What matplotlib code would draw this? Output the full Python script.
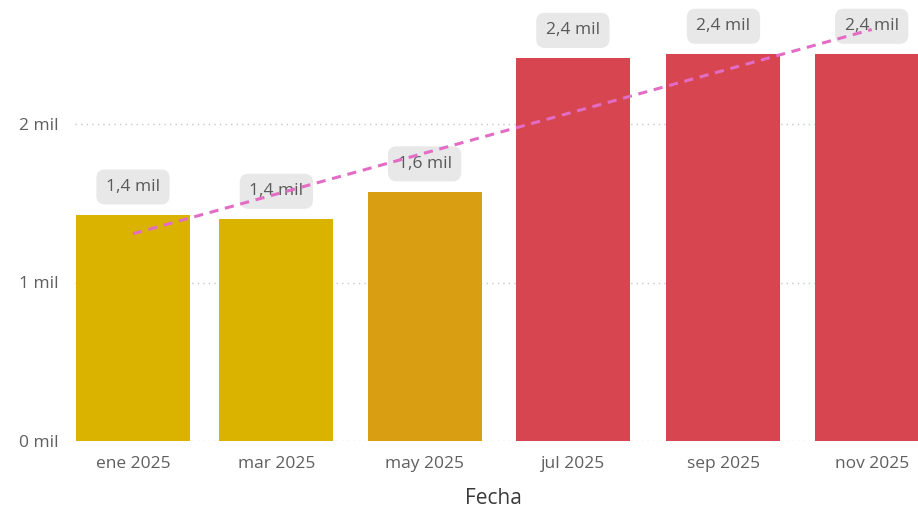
import matplotlib
matplotlib.use("Agg")
import matplotlib.pyplot as plt
import numpy as np
import datetime as dt

# Data
months = ["2025-01-01", "2025-03-01", "2025-05-01", "2025-07-01", "2025-09-01", "2025-11-01"]
tick_labels = ["ene 2025", "mar 2025", "may 2025", "jul 2025", "sep 2025", "nov 2025"]
values = [1426, 1399, 1572, 2414, 2440, 2440]
colors = ["#D9B300", "#D9B300", "#D99E12", "#D64550", "#D64550", "#D64550"]
y_ticks = [0, 1000, 2000]
y_tick_labels = ["0 mil", "1 mil", "2 mil"]

plt.rcParams['font.family'] = ['Open Sans', 'DejaVu Sans']

base = dt.date(2025, 1, 1)
days = np.array([(dt.date.fromisoformat(m) - base).days for m in months], dtype=float)

W, H = 918, 512
fig = plt.figure(figsize=(W / 100, H / 100), dpi=100)
left_px, right_px, bottom_px, top_px = 70, 940, 441, 0
ax = fig.add_axes([left_px / W, 1 - bottom_px / H, (right_px - left_px) / W, (bottom_px - top_px) / H])

px_per_day = 2.43
x0 = -(133 - left_px) / px_per_day
x1 = x0 + (right_px - left_px) / px_per_day
ax.set_xlim(x0, x1)
ax.set_ylim(0, 441 / 158.5 * 1000)

bar_w = 114 / px_per_day
ax.bar(days, values, width=bar_w, color=colors, zorder=2)

# gridlines
for t in y_ticks:
    ax.plot([-24, x1], [t, t], linestyle=(0, (1, 3)), color="#C8C8C8", lw=1, zorder=1)

# trend line
coef = np.polyfit(days, values, 1)
tx = np.array([days[0], days[-1]])
ax.plot(tx, np.polyval(coef, tx), linestyle=(0, (3, 2.2)), color="#E36CC4", lw=2.2, zorder=4)

# data labels
for d, v in zip(days, values):
    txt = f"{v/1000:.1f}".replace(".", ",") + " mil"
    ax.annotate(txt, (d, v), xytext=(0, 28), textcoords="offset pixels",
                ha="center", va="center", fontsize=12.5, color="#5A5A5A", zorder=3,
                bbox=dict(boxstyle="round,pad=0.55,rounding_size=0.5", fc="#E8E8E8", ec="none"))

for s in ax.spines.values():
    s.set_visible(False)
ax.set_yticks(y_ticks)
ax.set_yticklabels(y_tick_labels, fontsize=12.5, color="#5F5F5F")
ax.set_xticks(days)
ax.set_xticklabels(tick_labels, fontsize=12.5, color="#5F5F5F")
ax.tick_params(axis="both", length=0)
ax.tick_params(axis="y", pad=8)
ax.tick_params(axis="x", pad=11)
ax.set_xlabel("Fecha", fontsize=15, color="#3A3A3A")
ax.xaxis.set_label_coords((493 - left_px) / (right_px - left_px), -(498 - 441) / 441)
ax.xaxis.label.set_va("center")

fig.savefig("out.png", dpi=100)
